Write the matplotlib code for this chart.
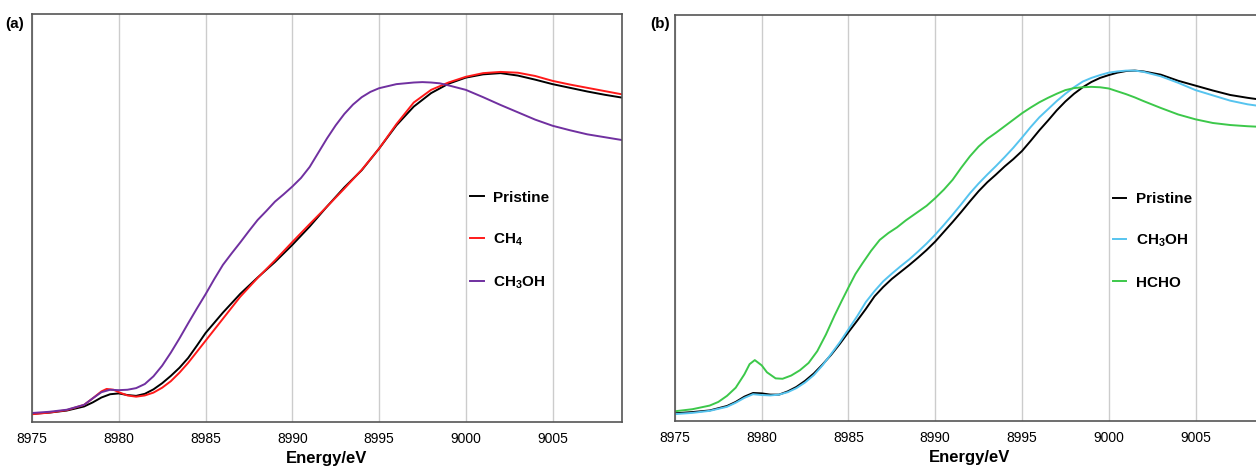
import numpy as np
import matplotlib
matplotlib.use("Agg")
import matplotlib.pyplot as plt

plt.rcParams['font.family'] = ['Liberation Sans', 'DejaVu Sans']
plt.rcParams['mathtext.fontset'] = 'custom'
plt.rcParams['mathtext.rm'] = 'Liberation Sans:bold'
plt.rcParams['mathtext.bf'] = 'Liberation Sans:bold'

# Panel (a): (energy, normalised absorption)
e_pristine_a = [8975, 8976, 8977, 8978, 8978.5, 8979, 8979.5, 8980, 8980.5, 8981, 8981.5,
                8982, 8982.5, 8983, 8983.5, 8984, 8984.5, 8985, 8986, 8987, 8988, 8989,
                8990, 8991, 8992, 8993, 8994, 8995, 8996, 8997, 8998, 8999, 9000, 9001,
                9002, 9003, 9004, 9005, 9006, 9007, 9008, 9009]
pristine_a = [0.020, 0.023, 0.028, 0.038, 0.048, 0.060, 0.068, 0.070, 0.066, 0.064, 0.069,
              0.080, 0.095, 0.113, 0.133, 0.157, 0.187, 0.218, 0.268, 0.314, 0.354, 0.392,
              0.434, 0.479, 0.528, 0.575, 0.617, 0.670, 0.727, 0.773, 0.806, 0.829, 0.844, 0.852,
              0.855, 0.849, 0.839, 0.828, 0.819, 0.810, 0.802, 0.795]

e_ch4_a = [8975, 8976, 8977, 8978, 8978.5, 8979, 8979.3, 8979.7, 8980, 8980.5, 8981, 8981.5,
           8982, 8982.5, 8983, 8983.5, 8984, 8984.5, 8985, 8986, 8987, 8988, 8989,
           8990, 8991, 8992, 8993, 8994, 8995, 8996, 8997, 8998, 8999, 9000, 9001,
           9002, 9003, 9004, 9005, 9006, 9007, 9008, 9009]
ch4_a = [0.019, 0.023, 0.029, 0.042, 0.058, 0.075, 0.081, 0.079, 0.073, 0.065, 0.062, 0.065,
         0.072, 0.084, 0.100, 0.121, 0.145, 0.172, 0.199, 0.253, 0.307, 0.353, 0.396,
         0.441, 0.485, 0.528, 0.572, 0.618, 0.670, 0.730, 0.783, 0.814, 0.832, 0.846, 0.855,
         0.858, 0.856, 0.848, 0.836, 0.827, 0.819, 0.811, 0.803]

e_ch3oh_a = [8975, 8976, 8977, 8978, 8978.5, 8979, 8979.5, 8980, 8980.5, 8981, 8981.5,
             8982, 8982.5, 8983, 8983.5, 8984, 8984.5, 8985, 8985.5, 8986, 8986.5, 8987,
             8987.5, 8988, 8988.5, 8989, 8989.5, 8990, 8990.5, 8991, 8991.5, 8992, 8992.5,
             8993, 8993.5, 8994, 8994.5, 8995, 8996, 8997, 8997.5, 8998, 8998.5, 8999,
             9000, 9001, 9002, 9003, 9004, 9005, 9006, 9007, 9008, 9009]
ch3oh_a = [0.022, 0.025, 0.030, 0.042, 0.058, 0.073, 0.079, 0.078, 0.079, 0.083, 0.093,
           0.112, 0.138, 0.170, 0.205, 0.242, 0.278, 0.313, 0.350, 0.385, 0.413, 0.440,
           0.468, 0.495, 0.517, 0.540, 0.558, 0.577, 0.598, 0.625, 0.660, 0.695, 0.727,
           0.755, 0.778, 0.796, 0.809, 0.818, 0.828, 0.832, 0.833, 0.832, 0.830, 0.825,
           0.814, 0.796, 0.777, 0.759, 0.741, 0.726, 0.715, 0.705, 0.698, 0.691]

# Panel (b)
e_fine_b = [8975, 8976, 8977, 8978, 8978.5, 8979, 8979.5, 8980, 8980.5, 8981, 8981.5,
            8982, 8982.5, 8983, 8983.5, 8984, 8984.5, 8985, 8985.5, 8986, 8986.5, 8987,
            8987.5, 8988, 8988.5, 8989, 8989.5, 8990, 8990.5, 8991, 8991.5, 8992, 8992.5,
            8993, 8993.5, 8994, 8994.5, 8995, 8995.5, 8996, 8996.5, 8997, 8997.5, 8998,
            8998.5, 8999, 8999.5, 9000, 9000.5, 9001, 9001.5, 9002]
e_tail_b = [9003, 9004, 9005, 9006, 9007, 9008, 9008.5]

e_pristine_b = e_fine_b + [9002.5] + e_tail_b
pristine_b = [0.019, 0.022, 0.026, 0.037, 0.047, 0.060, 0.069, 0.068, 0.065, 0.065, 0.073,
              0.084, 0.099, 0.117, 0.139, 0.163, 0.190, 0.219, 0.247, 0.276, 0.307, 0.330,
              0.350, 0.367, 0.384, 0.402, 0.421, 0.442, 0.466, 0.490, 0.515, 0.541, 0.566,
              0.588, 0.607, 0.627, 0.645, 0.665, 0.690, 0.716, 0.740, 0.765, 0.787, 0.806,
              0.822, 0.835, 0.845, 0.852, 0.858, 0.862, 0.863, 0.861,
              0.857, 0.853, 0.838, 0.826, 0.814, 0.803, 0.796, 0.793]

e_ch3oh_b = e_fine_b + e_tail_b
ch3oh_b = [0.017, 0.020, 0.025, 0.035, 0.045, 0.057, 0.066, 0.064, 0.063, 0.065, 0.071,
           0.081, 0.095, 0.113, 0.137, 0.165, 0.194, 0.226, 0.258, 0.293, 0.320, 0.344,
           0.363, 0.381, 0.398, 0.417, 0.437, 0.459, 0.483, 0.508, 0.534, 0.561, 0.585,
           0.607, 0.628, 0.650, 0.673, 0.698, 0.724, 0.748, 0.768, 0.788, 0.806, 0.822,
           0.836, 0.845, 0.852, 0.858, 0.861, 0.863, 0.863, 0.860,
           0.849, 0.833, 0.815, 0.802, 0.789, 0.780, 0.777]

e_hcho_b = [8975, 8976, 8977, 8977.5, 8978, 8978.5, 8979, 8979.3, 8979.6, 8980, 8980.3,
            8980.8, 8981.2, 8981.7, 8982.2, 8982.7, 8983.2, 8983.7, 8984.2, 8984.6, 8985,
            8985.4, 8985.8, 8986.3, 8986.8, 8987.3, 8987.8, 8988.3, 8988.9, 8989.5, 8990,
            8990.5, 8991, 8991.5, 8992, 8992.5, 8993, 8993.5, 8994, 8994.5, 8995, 8995.5,
            8996, 8996.5, 8997, 8997.5, 8998, 8998.5, 8999, 8999.5, 9000, 9000.5, 9001,
            9001.5, 9002, 9003, 9004, 9005, 9006, 9007, 9008, 9008.5]
hcho_b = [0.024, 0.029, 0.038, 0.047, 0.062, 0.082, 0.115, 0.140, 0.150, 0.137, 0.120,
          0.105, 0.104, 0.112, 0.125, 0.143, 0.172, 0.213, 0.260, 0.295, 0.329,
          0.362, 0.388, 0.419, 0.446, 0.463, 0.477, 0.494, 0.512, 0.530, 0.549,
          0.570, 0.594, 0.624, 0.652, 0.676, 0.695, 0.710, 0.726, 0.742, 0.758, 0.772,
          0.785, 0.796, 0.806, 0.815, 0.820, 0.822, 0.823, 0.822, 0.819, 0.812, 0.805,
          0.797, 0.788, 0.771, 0.755, 0.743, 0.734, 0.729, 0.726, 0.725]

ticks = [8975, 8980, 8985, 8990, 8995, 9000, 9005]

fig = plt.figure(figsize=(12.56, 4.67), dpi=100)
ax_a = fig.add_axes([0.0255, 0.0964, 0.4697, 0.8737])
ax_b = fig.add_axes([0.5374, 0.0985, 0.4697, 0.8694])

panels = [
    (ax_a, [(e_pristine_a, pristine_a, 'black', 'Pristine'),
            (e_ch4_a, ch4_a, '#ff1a1a', 'CH$_4$'),
            (e_ch3oh_a, ch3oh_a, '#7030a0', 'CH$_3$OH')], 0.567),
    (ax_b, [(e_pristine_b, pristine_b, 'black', 'Pristine'),
            (e_ch3oh_b, ch3oh_b, '#56c4ef', 'CH$_3$OH'),
            (e_hcho_b, hcho_b, '#3cc84a', 'HCHO')], 0.563),
]

for ax, series, ytop in panels:
    for x, y, c, lab in series:
        ax.plot(x, y, color=c, lw=1.4, label=lab)
    ax.set_xlim(8975, 9009)
    ax.set_ylim(0, 1)
    ax.set_xticks(ticks)
    ax.set_yticks([])
    ax.tick_params(axis='x', length=0, pad=7, labelsize=10)
    ax.grid(axis='x', color='#cccccc', lw=1)
    ax.set_axisbelow(True)
    for s in ax.spines.values():
        s.set_color('#555555')
        s.set_linewidth(1.2)
    ax.set_xlabel('Energy/eV', fontsize=12, fontweight='bold', labelpad=4)
    ax.legend(loc='upper left', bbox_to_anchor=(0.742, ytop), frameon=False,
              borderaxespad=0, borderpad=0, handlelength=0.9, handletextpad=0.6,
              labelspacing=1.72, prop={'weight': 'bold', 'size': 11})

fig.text(0.004, 0.94, '(a)', fontsize=11, fontweight='bold')
fig.text(0.5175, 0.94, '(b)', fontsize=11, fontweight='bold')

fig.savefig('out.png', dpi=100)
